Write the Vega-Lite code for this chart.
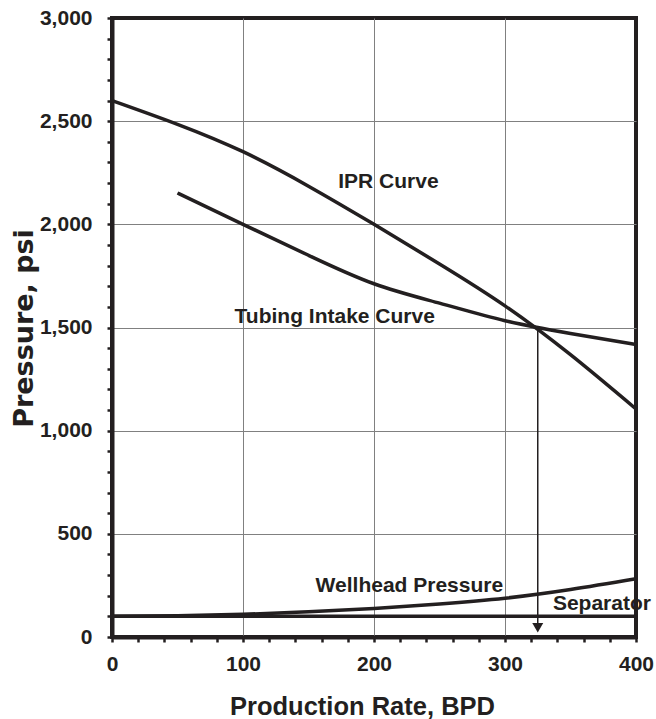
{
  "$schema": "https://vega.github.io/schema/vega-lite/v6.json",
  "width": 524,
  "height": 619,
  "autosize": "none",
  "padding": {"left": 112, "top": 18, "right": 20, "bottom": 82},
  "background": "white",
  "config": {
    "view": {"stroke": "#231f20", "strokeWidth": 4},
    "font": "Liberation Sans"
  },
  "datasets": {
    "curves": [
      {"series": "IPR", "q": 0, "p": 2600},
      {"series": "IPR", "q": 50, "p": 2485},
      {"series": "IPR", "q": 100, "p": 2352},
      {"series": "IPR", "q": 150, "p": 2185},
      {"series": "IPR", "q": 200, "p": 2000},
      {"series": "IPR", "q": 250, "p": 1808},
      {"series": "IPR", "q": 300, "p": 1605},
      {"series": "IPR", "q": 350, "p": 1368},
      {"series": "IPR", "q": 400, "p": 1105},
      {"series": "Tubing", "q": 50, "p": 2152},
      {"series": "Tubing", "q": 100, "p": 2000},
      {"series": "Tubing", "q": 150, "p": 1850},
      {"series": "Tubing", "q": 200, "p": 1712},
      {"series": "Tubing", "q": 250, "p": 1618},
      {"series": "Tubing", "q": 300, "p": 1533},
      {"series": "Tubing", "q": 350, "p": 1471},
      {"series": "Tubing", "q": 400, "p": 1418},
      {"series": "Wellhead", "q": 0, "p": 100},
      {"series": "Wellhead", "q": 50, "p": 103},
      {"series": "Wellhead", "q": 100, "p": 110},
      {"series": "Wellhead", "q": 150, "p": 122},
      {"series": "Wellhead", "q": 200, "p": 138},
      {"series": "Wellhead", "q": 250, "p": 160},
      {"series": "Wellhead", "q": 300, "p": 188},
      {"series": "Wellhead", "q": 350, "p": 230},
      {"series": "Wellhead", "q": 400, "p": 282},
      {"series": "Separator", "q": 0, "p": 100},
      {"series": "Separator", "q": 400, "p": 100}
    ],
    "labels": [
      {"label": "IPR Curve", "q": 211, "p": 2174},
      {"label": "Tubing Intake Curve", "q": 170, "p": 1522},
      {"label": "Wellhead Pressure", "q": 227, "p": 218},
      {"label": "Separator", "q": 374, "p": 131}
    ],
    "arrow": [{"q": 325, "p": 1500, "p2": 60}],
    "arrowhead": [{"q": 325, "p": 45}]
  },
  "encoding": {
    "x": {
      "field": "q",
      "type": "quantitative",
      "scale": {"domain": [0, 400], "nice": false, "zero": false},
      "axis": {
        "title": "Production Rate, BPD",
        "values": [0, 20, 40, 60, 80, 100, 120, 140, 160, 180, 200, 220, 240, 260, 280, 300, 320, 340, 360, 380, 400],
        "labelExpr": "datum.value % 100 === 0 ? format(datum.value, 'd') : ''",
        "grid": true,
        "gridColor": "#808080",
        "gridWidth": 1,
        "gridOpacity": {"condition": {"test": "datum.value % 100 === 0 && datum.value > 0 && datum.value < 400", "value": 1}, "value": 0},
        "domainColor": "#231f20",
        "domainWidth": 4,
        "tickColor": "#231f20",
        "tickWidth": 2.5,
        "tickSize": 5,
        "labelFont": "Liberation Sans",
        "labelFontSize": 21,
        "labelFontWeight": "bold",
        "labelColor": "#231f20",
        "labelPadding": 11,
        "labelFlush": false,
        "labelOverlap": false,
        "labelBound": false,
        "titleFont": "Liberation Sans",
        "titleFontSize": 25.5,
        "titleFontWeight": "bold",
        "titleColor": "#231f20",
        "titleX": 250,
        "titleY": 77,
        "titleAlign": "center",
        "titleBaseline": "alphabetic"
      }
    },
    "y": {
      "field": "p",
      "type": "quantitative",
      "scale": {"domain": [0, 3000], "nice": false},
      "axis": {
        "title": "Pressure, psi",
        "values": [0, 100, 200, 300, 400, 500, 600, 700, 800, 900, 1000, 1100, 1200, 1300, 1400, 1500, 1600, 1700, 1800, 1900, 2000, 2100, 2200, 2300, 2400, 2500, 2600, 2700, 2800, 2900, 3000],
        "labelExpr": "datum.value % 500 === 0 ? format(datum.value, ',') : ''",
        "grid": true,
        "gridColor": "#808080",
        "gridWidth": 1,
        "gridOpacity": {"condition": {"test": "datum.value % 500 === 0 && datum.value > 0 && datum.value < 3000", "value": 1}, "value": 0},
        "domainColor": "#231f20",
        "domainWidth": 4,
        "tickColor": "#231f20",
        "tickWidth": 2.5,
        "tickSize": 5,
        "labelFont": "Liberation Sans",
        "labelFontSize": 21,
        "labelFontWeight": "bold",
        "labelColor": "#231f20",
        "labelPadding": 15,
        "labelFlush": false,
        "labelOverlap": false,
        "labelBound": false,
        "titleFont": "DejaVu Sans",
        "titleFontSize": 27,
        "titleFontWeight": "bold",
        "titleColor": "#231f20",
        "titleAngle": -90,
        "titleX": -80,
        "titleY": 310,
        "titleAlign": "center",
        "titleBaseline": "alphabetic"
      }
    }
  },
  "layer": [
    {
      "data": {"name": "curves"},
      "mark": {"type": "line", "interpolate": "natural", "strokeWidth": 3.5, "color": "#231f20"},
      "encoding": {"detail": {"field": "series"}}
    },
    {
      "data": {"name": "arrow"},
      "mark": {"type": "rule", "strokeWidth": 1.5, "color": "#231f20"},
      "encoding": {"y2": {"field": "p2"}}
    },
    {
      "data": {"name": "arrowhead"},
      "mark": {"type": "point", "shape": "triangle-down", "filled": true, "size": 121, "color": "#231f20", "opacity": 1},
      "encoding": {}
    },
    {
      "data": {"name": "labels"},
      "mark": {"type": "text", "font": "Liberation Sans", "fontSize": 21, "fontWeight": "bold", "color": "#231f20", "align": "center", "baseline": "alphabetic"},
      "encoding": {"text": {"field": "label"}}
    }
  ]
}
